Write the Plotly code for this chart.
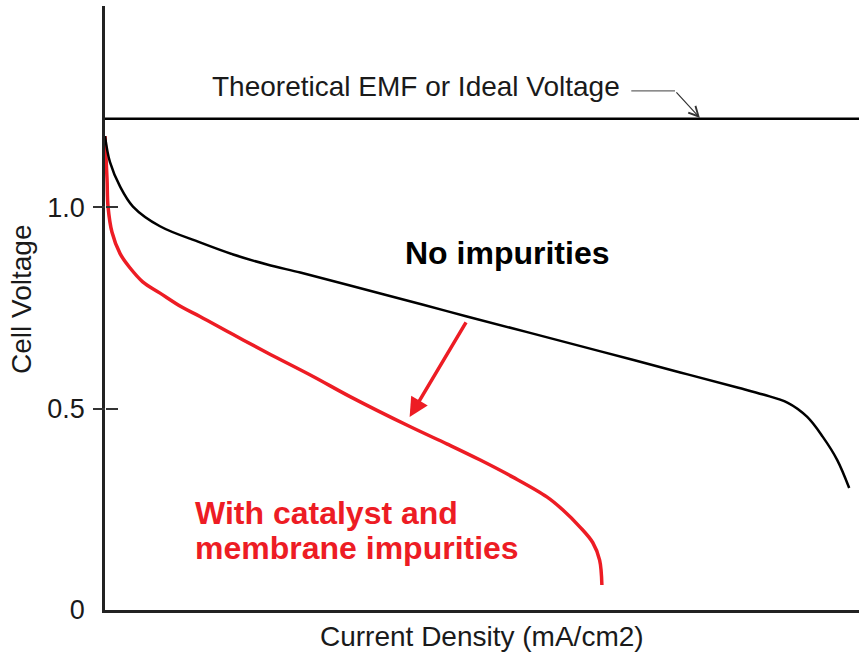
"""Cell voltage vs current density — impurity effect (Plotly)"""
import plotly.graph_objects as go

# 이론 기전력 (V)
emf_x = [0, 100]
emf_v = [1.22, 1.22]

# 불순물 없음
clean_x = [0, 0.66, 1.99, 3.71, 7.29, 12.6, 17.0, 21.5, 25.9, 32.5, 42.2, 48.0,
           56.0, 65.6, 76.3, 84.0, 87.3, 90.5, 93.1, 95.2, 97.1, 98.7]
clean_v = [1.177, 1.112, 1.052, 1.002, 0.953, 0.913, 0.883, 0.858, 0.838, 0.806,
           0.758, 0.729, 0.690, 0.643, 0.590, 0.552, 0.535, 0.515, 0.480, 0.430,
           0.373, 0.303]

# 촉매/멤브레인 불순물
dirty_x = [0, 0.27, 0.4, 0.93, 2.0, 3.3, 5.0, 7.3, 10.3, 12.6, 17.0, 21.5, 27.6,
           32.5, 40.5, 45.4, 49.7, 54.1, 58.6, 60.7, 63.0, 64.7, 65.6, 65.9]
dirty_v = [1.177, 1.070, 1.002, 0.938, 0.885, 0.850, 0.815, 0.787, 0.751, 0.729,
           0.684, 0.639, 0.580, 0.530, 0.455, 0.412, 0.373, 0.330, 0.281, 0.249,
           0.206, 0.167, 0.124, 0.062]

y_ticks = [0, 0.5, 1.0]
y_labels = ["0", "0.5", "1.0"]
cross_ticks = [0.5, 1.0]  # 축을 가로지르는 눈금 (0에는 없음)

RED = "#ED1C24"
FONT = "Liberation Sans, Arial, sans-serif"
Y_RANGE = [0, 1.5]

fig = go.Figure()

fig.add_trace(go.Scatter(x=emf_x, y=emf_v, mode="lines", yaxis="y2",
                         line=dict(color="black", width=2.5), hoverinfo="skip"))
fig.add_trace(go.Scatter(x=clean_x, y=clean_v, mode="lines", yaxis="y3",
                         line=dict(color="black", width=2.5, shape="spline", smoothing=1.0)))
fig.add_trace(go.Scatter(x=dirty_x, y=dirty_v, mode="lines",
                         line=dict(color=RED, width=3.5, shape="spline", smoothing=1.0)))

annotations = [
    dict(text="Theoretical EMF or Ideal Voltage", x=41.2, y=1.301, showarrow=False,
         font=dict(size=28, color="#1a1a1a")),
    # EMF 화살표 (꺾은 선)
    dict(x=78.9, y=1.222, ax=75.6, ay=1.289, axref="x", ayref="y", text="",
         showarrow=True, arrowhead=5, arrowsize=1.6, arrowwidth=1.2, arrowcolor="#333"),
    dict(text="<b>No impurities</b>", x=53.3, y=0.887, showarrow=False,
         font=dict(size=32, color="black")),
    dict(text="<b>With catalyst and</b>", x=11.67, y=0.241, xanchor="left", showarrow=False,
         font=dict(size=32, color=RED)),
    dict(text="<b>membrane impurities</b>", x=11.67, y=0.154, xanchor="left", showarrow=False,
         font=dict(size=32, color=RED)),
    dict(x=40.4, y=0.479, ax=48.0, ay=0.718, axref="x", ayref="y", text="",
         showarrow=True, arrowhead=2, arrowsize=1.1, arrowwidth=3.5, arrowcolor=RED),
    dict(text="Current Density (mA/cm2)", xref="paper", yref="paper", x=0.5, y=0,
         yanchor="middle", yshift=-26, showarrow=False, font=dict(size=28, color="#1a1a1a")),
    dict(text="Cell Voltage", xref="paper", x=0, xanchor="center", xshift=-83, y=0.77,
         yanchor="middle", textangle=-90, showarrow=False,
         font=dict(size=28, color="#1a1a1a")),
]

fig.update_layout(
    width=859, height=658,
    margin=dict(l=105, r=0, t=6, b=48),
    paper_bgcolor="white", plot_bgcolor="white",
    showlegend=False,
    font=dict(family=FONT, color="#1a1a1a"),
    annotations=annotations,
    shapes=[dict(type="line", xref="x", yref="y", x0=69.8, x1=75.6, y0=1.289, y1=1.289,
                 line=dict(color="#666", width=1.2))],
    xaxis=dict(range=[0, 100], showgrid=False, zeroline=False, showticklabels=False,
               ticks="", showline=True, linecolor="#222", linewidth=2.5),
    # 라벨 전용 (눈금은 투명)
    yaxis=dict(range=Y_RANGE, showgrid=False, zeroline=False, tickvals=y_ticks,
               ticktext=y_labels, ticks="outside", ticklen=12, tickwidth=1.5,
               tickcolor="rgba(0,0,0,0)", showline=True, linecolor="#222", linewidth=2.5,
               tickfont=dict(size=27, color="#1a1a1a")),
    # 오른쪽 방향 눈금
    yaxis2=dict(range=Y_RANGE, overlaying="y", side="right", anchor="free", position=0,
                showgrid=False, zeroline=False, tickmode="array", tickvals=cross_ticks,
                showticklabels=False, ticks="outside", ticklen=12, tickwidth=1.5,
                tickcolor="#333", showline=False),
    # 왼쪽 방향 눈금
    yaxis3=dict(range=Y_RANGE, overlaying="y", side="left", anchor="free", position=0,
                showgrid=False, zeroline=False, tickmode="array", tickvals=cross_ticks,
                showticklabels=False, ticks="outside", ticklen=12, tickwidth=1.5,
                tickcolor="#333", showline=False),
)

fig.write_html("out.html", config={"displayModeBar": False},
               post_script="document.body.style.margin='0';")
